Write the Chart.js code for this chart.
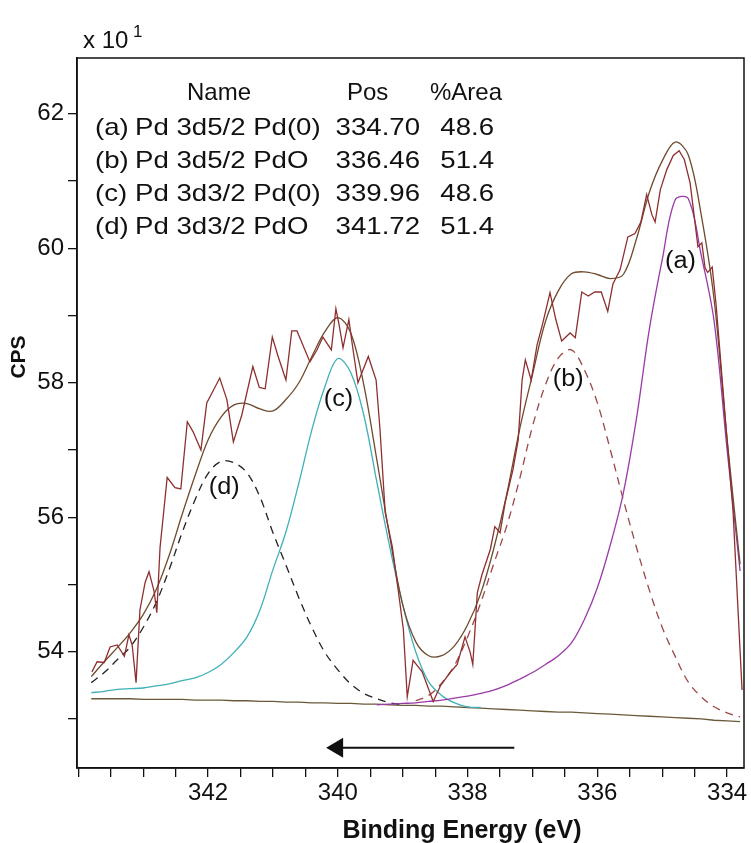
<!DOCTYPE html>
<html>
<head>
<meta charset="utf-8">
<script src="https://cdn.jsdelivr.net/npm/chart.js@4.4.0/dist/chart.umd.min.js"></script>
<style>
  body { margin: 0; background: #fff; }
  #wrap { width: 751px; height: 843px; }
</style>
</head>
<body>
<div id="wrap"><canvas id="xps" width="751" height="843"></canvas></div>
<script>
// Energy grid used for the fitted curves (eV)
const gridE = [
    343.8, 343.6, 343.4, 343.2, 343.0, 342.8, 342.6, 342.4, 342.2, 342.0,
    341.8, 341.6, 341.4, 341.2, 341.0, 340.8, 340.6, 340.4, 340.2, 340.0,
    339.8, 339.6, 339.4, 339.2, 339.0, 338.8, 338.6, 338.4, 338.2, 338.0,
    337.8, 337.6, 337.4, 337.2, 337.0, 336.8, 336.6, 336.4, 336.2, 336.0,
    335.8, 335.6, 335.4, 335.2, 335.0, 334.8, 334.6, 334.4, 334.2, 334.0,
    333.8,
];

// Shirley background (CPS x 10)
const background = [
    53.30, 53.30, 53.30, 53.30, 53.29, 53.29, 53.29, 53.29, 53.28, 53.28,
    53.28, 53.27, 53.27, 53.26, 53.26, 53.25, 53.25, 53.24, 53.24, 53.23,
    53.23, 53.22, 53.22, 53.21, 53.20, 53.20, 53.19, 53.19, 53.18, 53.17,
    53.16, 53.15, 53.14, 53.13, 53.12, 53.11, 53.10, 53.10, 53.09, 53.08,
    53.07, 53.06, 53.05, 53.04, 53.03, 53.02, 53.01, 53.00, 52.98, 52.97,
    52.96,
];

// Component (a) Pd 3d5/2 Pd(0)
const peakA = [
    null, null, null, null, null, null, null, null, null, null,
    null, null, null, null, null, null, null, null, null, null,
    null, null, 53.21, 53.22, 53.23, 53.24, 53.26, 53.28, 53.31, 53.34,
    53.38, 53.43, 53.50, 53.59, 53.69, 53.81, 53.94, 54.13, 54.48, 54.95,
    55.59, 56.36, 57.45, 58.79, 59.83, 60.72, 60.74, 59.90, 58.91, 57.00,
    55.20,
];

// Component (b) Pd 3d5/2 PdO
const peakB = [
    null, null, null, null, null, null, null, null, null, null,
    null, null, null, null, null, null, null, null, null, null,
    null, null, null, null, null, 53.27, 53.35, 53.53, 53.80, 54.22,
    54.72, 55.30, 55.86, 56.56, 57.35, 57.97, 58.37, 58.49, 58.19, 57.70,
    57.00, 56.26, 55.56, 54.92, 54.36, 53.93, 53.55, 53.33, 53.18, 53.09,
    53.03,
];

// Component (c) Pd 3d3/2 Pd(0)
const peakC = [
    53.39, 53.41, 53.44, 53.45, 53.46, 53.49, 53.52, 53.57, 53.61, 53.69,
    53.81, 53.99, 54.22, 54.62, 55.22, 55.78, 56.51, 57.30, 57.94, 58.36,
    58.15, 57.52, 56.53, 55.56, 54.70, 54.00, 53.55, 53.35, 53.24, 53.18,
    53.17, null, null, null, null, null, null, null, null, null,
    null, null, null, null, null, null, null, null, null, null,
    null,
];

// Component (d) Pd 3d3/2 PdO
const peakD = [
    53.54, 53.69, 53.88, 54.07, 54.36, 54.73, 55.22, 55.77, 56.26, 56.65,
    56.83, 56.81, 56.66, 56.30, 55.77, 55.29, 54.80, 54.36, 53.99, 53.73,
    53.52, 53.38, 53.30, 53.24, 53.21, null, null, null, null, null,
    null, null, null, null, null, null, null, null, null, null,
    null, null, null, null, null, null, null, null, null, null,
    null,
];

// Fit envelope
const envelope = [
    53.63, 53.85, 54.06, 54.28, 54.55, 54.92, 55.43, 56.04, 56.62, 57.15,
    57.49, 57.67, 57.69, 57.61, 57.58, 57.75, 58.00, 58.39, 58.76, 58.97,
    58.74, 57.97, 56.86, 55.71, 54.70, 54.15, 53.94, 53.94, 54.09, 54.40,
    54.86, 55.52, 56.33, 57.30, 58.12, 58.91, 59.37, 59.62, 59.65, 59.61,
    59.55, 59.61, 60.13, 60.83, 61.30, 61.58, 61.39, 60.50, 59.23, 57.15,
    55.30,
];

// Measured spectrum
const rawE = [
    343.79, 343.71, 343.60, 343.51, 343.40, 343.29, 343.22, 343.17, 343.11, 343.05,
    342.97, 342.91, 342.83, 342.79, 342.74, 342.63, 342.51, 342.42, 342.32, 342.23,
    342.11, 342.02, 341.82, 341.71, 341.61, 341.48, 341.31, 341.21, 341.12, 341.01,
    340.92, 340.80, 340.71, 340.63, 340.43, 340.32, 340.23, 340.10, 340.03, 339.98,
    339.92, 339.83, 339.77, 339.69, 339.53, 339.41, 339.35, 339.27, 339.16, 339.07,
    338.99, 338.93, 338.84, 338.70, 338.53, 338.42, 338.27, 338.16, 338.04, 337.96,
    337.92, 337.85, 337.78, 337.65, 337.58, 337.50, 337.42, 337.30, 337.22, 337.16,
    337.11, 337.02, 336.93, 336.84, 336.73, 336.64, 336.55, 336.42, 336.34, 336.24,
    336.14, 336.04, 335.94, 335.84, 335.76, 335.65, 335.53, 335.42, 335.33, 335.24,
    335.16, 335.11, 335.03, 334.93, 334.83, 334.74, 334.66, 334.57, 334.50, 334.45,
    334.39, 334.34, 334.30, 334.23, 334.17, 334.11, 334.02, 333.91, 333.77,
];
const rawV = [
    53.70, 53.85, 53.84, 54.07, 54.10, 53.93, 54.25, 54.10, 53.54, 54.62,
    55.03, 55.19, 54.89, 54.58, 55.55, 56.59, 56.44, 56.42, 57.42, 57.27,
    57.00, 57.70, 58.07, 57.75, 57.12, 57.52, 58.24, 57.93, 57.91, 58.68,
    58.39, 58.04, 58.77, 58.77, 58.31, 58.49, 58.68, 58.49, 59.10, 58.86,
    58.52, 58.94, 58.52, 58.00, 58.39, 58.04, 57.30, 56.07, 55.56, 54.92,
    54.33, 53.33, 53.87, 53.70, 53.26, 53.49, 53.69, 53.81, 54.22, 53.99,
    53.81, 54.88, 55.14, 55.52, 55.86, 55.77, 56.22, 56.71, 57.15, 58.04,
    58.34, 58.04, 58.56, 58.89, 59.34, 58.94, 58.62, 58.74, 58.67, 59.35,
    59.29, 59.35, 59.35, 59.06, 59.47, 59.68, 60.17, 60.22, 60.39, 60.80,
    60.50, 60.39, 60.87, 61.17, 61.38, 61.45, 61.32, 60.97, 60.42, 60.02,
    60.08, 59.71, 59.64, 59.72, 59.16, 58.45, 57.38, 56.11, 53.43,
];

// Peak table
const peakTags = ["(a)", "(b)", "(c)", "(d)"];
const peakNames = ["Pd 3d5/2 Pd(0)", "Pd 3d5/2 PdO", "Pd 3d3/2 Pd(0)", "Pd 3d3/2 PdO"];
const peakPos = ["334.70", "336.46", "339.96", "341.72"];
const peakArea = ["48.6", "51.4", "48.6", "51.4"];

// Where the peak tags sit on the plot (eV, CPS x 10)
const tagE = [334.72, 336.45, 339.99, 341.75];
const tagV = [59.80, 58.04, 57.75, 56.44];

// Tick labels
const xTickLabels = [342, 340, 338, 336, 334];
const yTickLabels = [54, 56, 58, 60, 62];

const FONT = '"Liberation Sans", Arial, sans-serif';

// Turn a grid series into {x, y} points, skipping empty cells
function toPoints(values) {
    return gridE
        .map((e, i) => ({ x: e, y: values[i] }))
        .filter((p) => p.y !== null);
}

function lineSet(label, data, color, extra) {
    return Object.assign(
        {
            label,
            data,
            borderColor: color,
            borderWidth: 1.3,
            pointRadius: 0,
            fill: false,
            tension: 0.35,
        },
        extra || {}
    );
}

function drawStretched(ctx, text, px, py, sx, align) {
    ctx.save();
    ctx.translate(px, py);
    ctx.scale(sx, 1);
    ctx.textAlign = align;
    ctx.fillText(text, 0, 0);
    ctx.restore();
}

// Frame, texts, table and arrow
const overlay = {
    id: "overlay",
    afterDraw(chart) {
        const { ctx, chartArea: a } = chart;
        const xs = chart.scales.x;
        const ys = chart.scales.y;
        ctx.save();

        ctx.strokeStyle = "#111";
        ctx.lineWidth = 1.5;
        ctx.strokeRect(a.left, a.top, a.right - a.left, a.bottom - a.top);

        ctx.fillStyle = "#111";
        ctx.textBaseline = "middle";

        // table header
        ctx.font = "24px " + FONT;
        drawStretched(ctx, "Name", 187, 93, 1.0, "left");
        drawStretched(ctx, "Pos", 347, 93, 1.0, "left");
        drawStretched(ctx, "%Area", 430, 93, 1.0, "left");

        // table rows
        peakTags.forEach((tag, i) => {
            const rowY = 128 + i * 33;
            drawStretched(ctx, tag, 95, rowY, 1.15, "left");
            drawStretched(ctx, peakNames[i], 135, rowY, 1.15, "left");
            drawStretched(ctx, peakPos[i], 420, rowY, 1.15, "right");
            drawStretched(ctx, peakArea[i], 494, rowY, 1.15, "right");
        });

        // peak tags on the curves
        ctx.font = "23px " + FONT;
        peakTags.forEach((tag, i) => {
            drawStretched(ctx, tag, xs.getPixelForValue(tagE[i]), ys.getPixelForValue(tagV[i]), 1.1, "center");
        });

        // scan direction arrow
        const ay = ys.getPixelForValue(52.57);
        const ax0 = xs.getPixelForValue(337.28);
        const ax1 = xs.getPixelForValue(340.18);
        ctx.lineWidth = 2;
        ctx.beginPath();
        ctx.moveTo(ax0, ay);
        ctx.lineTo(ax1 + 12, ay);
        ctx.stroke();
        ctx.beginPath();
        ctx.moveTo(ax1, ay);
        ctx.lineTo(ax1 + 17, ay - 10);
        ctx.lineTo(ax1 + 17, ay + 10);
        ctx.closePath();
        ctx.fill();

        // exponent
        ctx.textBaseline = "alphabetic";
        ctx.font = "24px " + FONT;
        ctx.textAlign = "left";
        ctx.fillText("x 10", 83, 48);
        ctx.font = "17px " + FONT;
        ctx.fillText("1", 133, 37);

        // axis titles
        ctx.textBaseline = "middle";
        ctx.font = "bold 25px " + FONT;
        ctx.textAlign = "center";
        ctx.fillText("Binding Energy (eV)", 462, 831);

        ctx.save();
        ctx.translate(19, 357);
        ctx.rotate(-Math.PI / 2);
        ctx.font = "bold 21px " + FONT;
        ctx.fillText("CPS", 0, 0);
        ctx.restore();

        ctx.restore();
    },
};

const rawPoints = rawE.map((e, i) => ({ x: e, y: rawV[i] }));

new Chart(document.getElementById("xps"), {
    type: "line",
    data: {
        datasets: [
            lineSet("Raw", rawPoints, "#8e2f2f", { tension: 0, borderWidth: 1.3 }),
            lineSet("Envelope", toPoints(envelope), "#6e4b2e"),
            lineSet("(a)", toPoints(peakA), "#9a3aa8"),
            lineSet("(b)", toPoints(peakB), "#9c4646", { borderDash: [8, 6] }),
            lineSet("(c)", toPoints(peakC), "#3fb0b8"),
            lineSet("(d)", toPoints(peakD), "#222222", { borderDash: [8, 6] }),
            lineSet("Background", toPoints(background), "#6a5a3a", { tension: 0 }),
        ],
    },
    options: {
        responsive: false,
        animation: false,
        devicePixelRatio: 1,
        events: [],
        layout: { padding: { left: 0, right: 7, top: 58, bottom: 0 } },
        plugins: {
            legend: { display: false },
            tooltip: { enabled: false },
        },
        scales: {
            x: {
                type: "linear",
                reverse: true,
                min: 333.74,
                max: 344.02,
                afterFit: (scale) => {
                    scale.height = 75;
                },
                grid: {
                    drawOnChartArea: false,
                    drawTicks: true,
                    tickLength: 9,
                    color: "#111",
                    lineWidth: 1.3,
                },
                border: { display: true, color: "#111", width: 1.5 },
                ticks: {
                    stepSize: 0.5,
                    includeBounds: false,
                    autoSkip: false,
                    maxRotation: 0,
                    padding: 2,
                    color: "#111",
                    font: { family: FONT, size: 24 },
                    callback: (v) => (xTickLabels.includes(v) ? String(v) : ""),
                },
            },
            y: {
                type: "linear",
                min: 52.27,
                max: 62.83,
                afterFit: (scale) => {
                    scale.width = 77;
                },
                grid: {
                    drawOnChartArea: false,
                    drawTicks: true,
                    tickLength: 9,
                    color: "#111",
                    lineWidth: 1.3,
                },
                border: { display: true, color: "#111", width: 1.5 },
                ticks: {
                    stepSize: 1,
                    includeBounds: false,
                    autoSkip: false,
                    padding: 4,
                    color: "#111",
                    font: { family: FONT, size: 24 },
                    callback: (v) => (yTickLabels.includes(v) ? String(v) : ""),
                },
            },
        },
    },
    plugins: [overlay],
});
</script>
</body>
</html>
